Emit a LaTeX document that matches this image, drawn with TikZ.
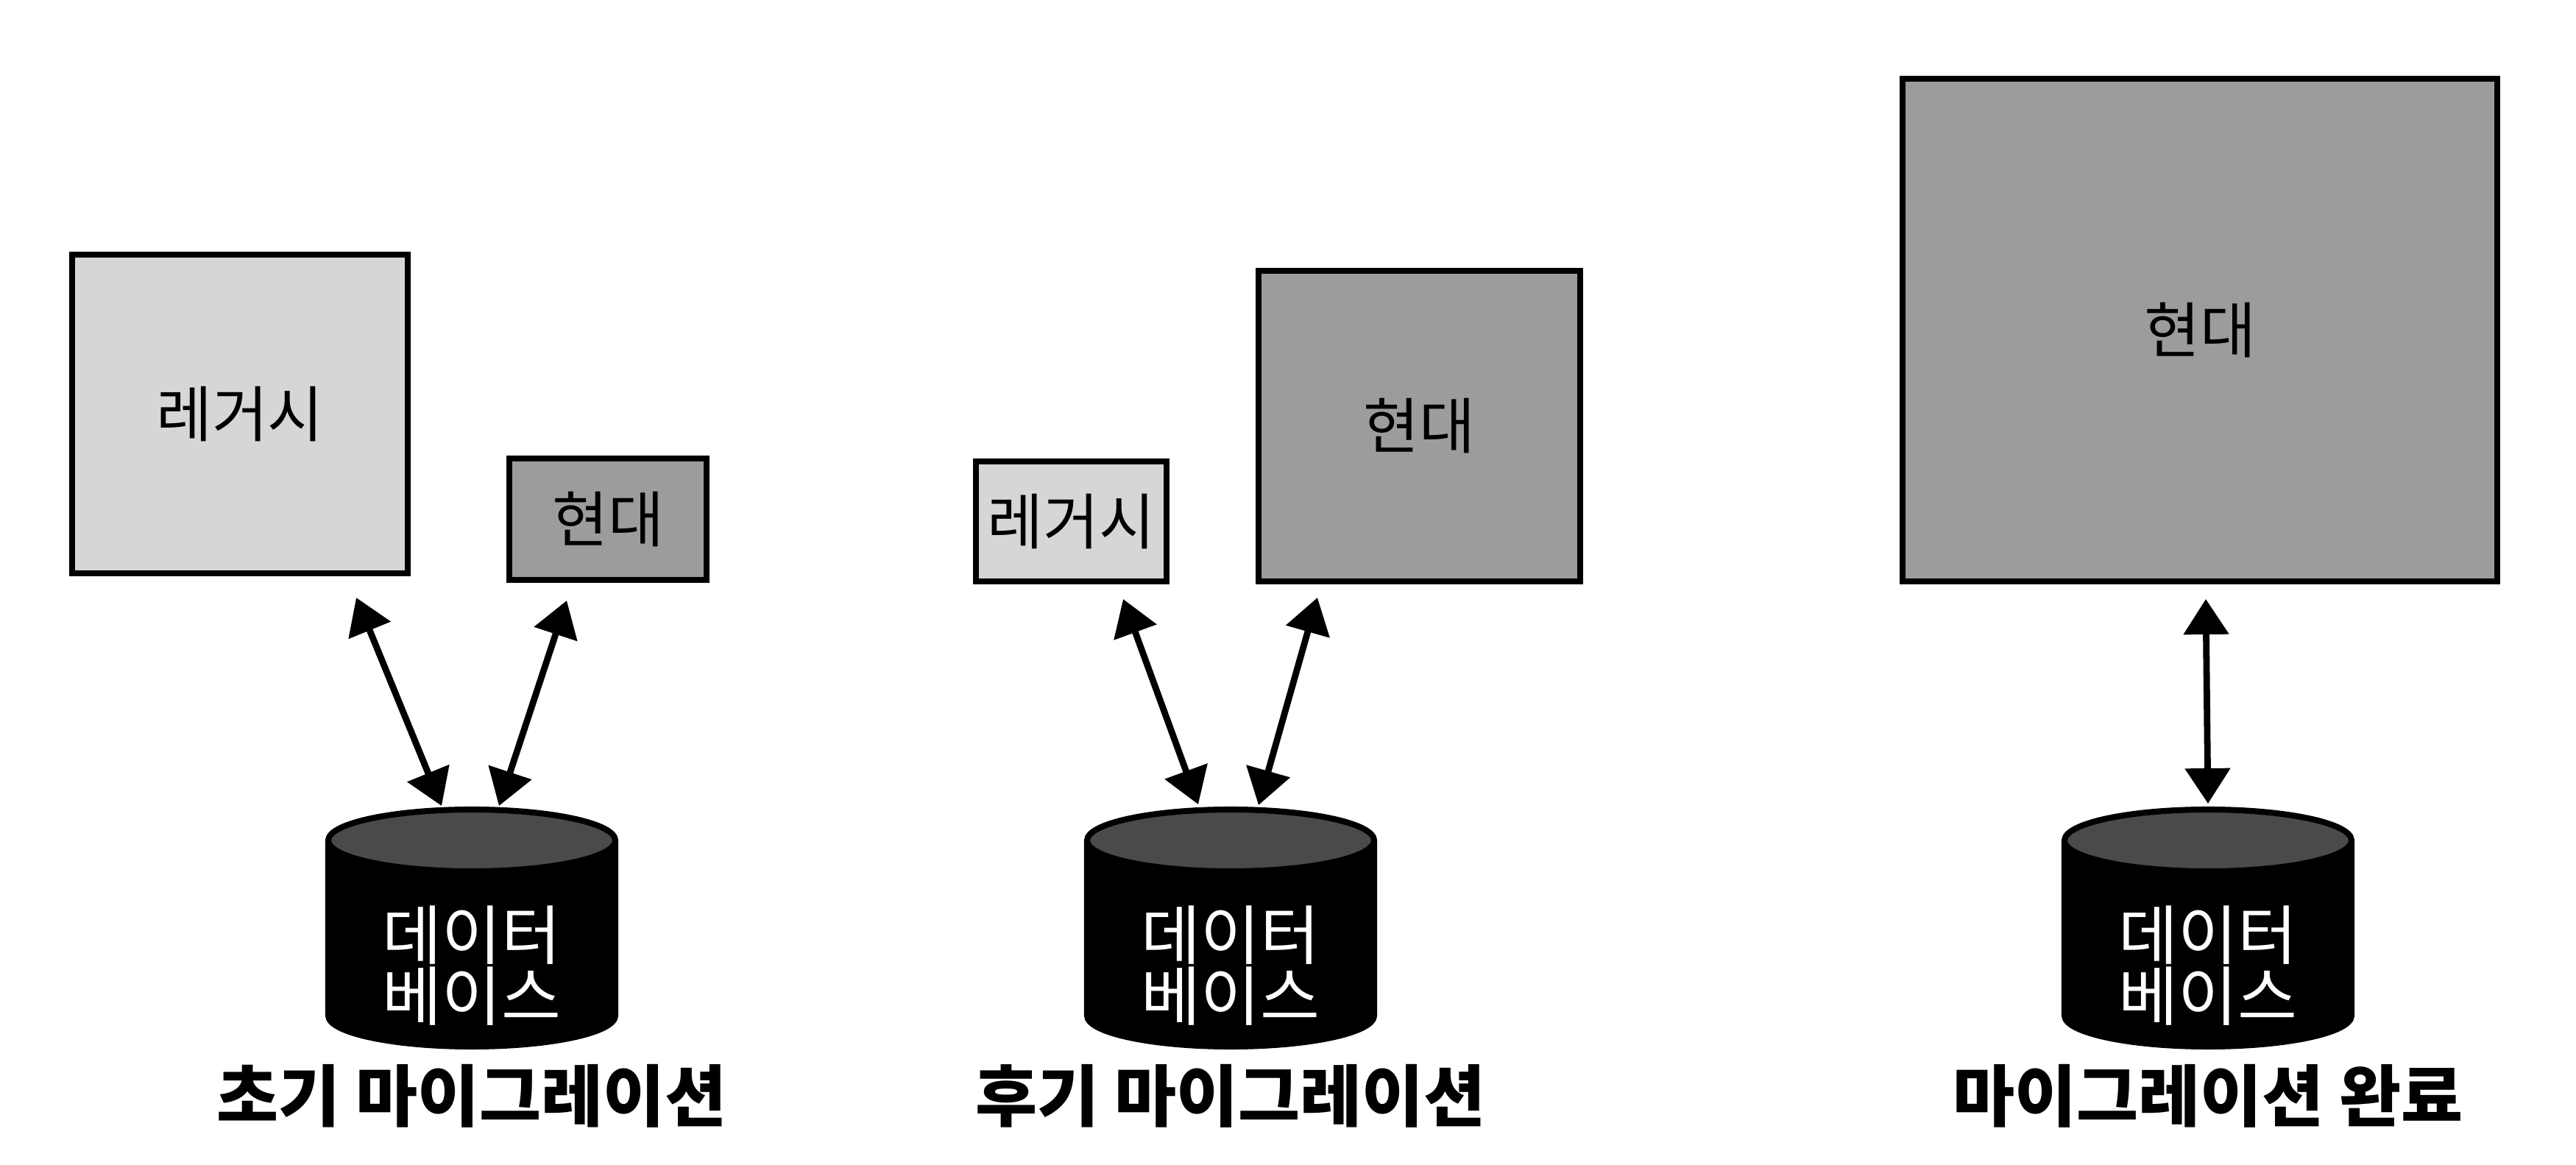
\documentclass[tikz,border=0pt]{standalone}
\usepackage{fontspec}
\setmainfont{Noto Sans CJK KR}
\usetikzlibrary{positioning,arrows.meta}
\definecolor{legacygray}{HTML}{D6D6D6}
\definecolor{moderngray}{HTML}{9C9C9C}
\definecolor{dbtopgray}{HTML}{4A4A4A}

\begin{document}
\begin{tikzpicture}[
  appbox/.style={shape=rectangle,draw,line width=2.3pt,inner sep=0pt,font=\fontsize{23.5}{23.5}\selectfont},
  legacy/.style={appbox,fill=legacygray},
  modern/.style={appbox,fill=moderngray},
  dbcan/.style={shape=rectangle,minimum width=3.9cm,minimum height=3.22cm,inner sep=0pt,outer sep=0pt,anchor=north},
  dbline/.style={line width=2.3pt,line join=round},
  dbname/.style={inner sep=0pt,align=center,text=white,font=\fontsize{25}{22.5}\selectfont},
  link/.style={{Triangle[length=0.48cm,width=0.6cm]}-{Triangle[length=0.48cm,width=0.6cm]},line width=2.5pt},
  phase/.style={inner sep=0pt,font=\fontsize{26}{26}\selectfont\bfseries}
]
\useasboundingbox (0,0) rectangle (35,-15.83);
\node[legacy,minimum width=4.56cm,minimum height=4.33cm] (legacy1) at (3.26,-5.625) {레거시};
\node[modern,minimum width=2.68cm,minimum height=1.65cm] (modern1) at (8.26,-7.055) {현대};
\node[dbcan] (db1) at (6.41,-11.00) {};
\draw[dbline,fill=black] ([yshift=-0.42cm]db1.north west) -- ([yshift=0.42cm]db1.south west)
   arc[start angle=180,end angle=360,x radius=1.95cm,y radius=0.42cm] -- ([yshift=-0.42cm]db1.north east) -- cycle;
\draw[dbline,fill=dbtopgray] ([yshift=-0.42cm]db1.north) ellipse[x radius=1.95cm,y radius=0.42cm];
\node[dbname] (dbname1) at ([yshift=-2.12cm]db1.north) {데이터\\베이스};
\node[phase,below=0.24cm of db1] (phase1) {초기 마이그레이션};
\draw[link] ([shift={(-0.74,-0.29)}]legacy1.south east) -- ([shift={(-0.41,0.05)}]db1.north);
\draw[link] ([shift={(-0.56,-0.24)}]modern1.south) -- ([shift={(0.37,0.05)}]db1.north);

\node[legacy,minimum width=2.59cm,minimum height=1.63cm] (legacy2) at (14.555,-7.085) {레거시};
\node[modern,minimum width=4.37cm,minimum height=4.22cm] (modern2) at (19.285,-5.79) {현대};
\node[dbcan] (db2) at (16.72,-11.00) {};
\draw[dbline,fill=black] ([yshift=-0.42cm]db2.north west) -- ([yshift=0.42cm]db2.south west)
   arc[start angle=180,end angle=360,x radius=1.95cm,y radius=0.42cm] -- ([yshift=-0.42cm]db2.north east) -- cycle;
\draw[dbline,fill=dbtopgray] ([yshift=-0.42cm]db2.north) ellipse[x radius=1.95cm,y radius=0.42cm];
\node[dbname] (dbname2) at ([yshift=-2.12cm]db2.north) {데이터\\베이스};
\node[phase,below=0.24cm of db2] (phase2) {후기 마이그레이션};
\draw[link] ([shift={(-0.63,-0.20)}]legacy2.south east) -- ([shift={(-0.44,0.07)}]db2.north);
\draw[link] ([shift={(0.84,-0.18)}]modern2.south west) -- ([shift={(0.38,0.06)}]db2.north);

\node[modern,minimum width=8.08cm,minimum height=6.83cm] (modern3) at (29.89,-4.485) {현대};
\node[dbcan] (db3) at (30.00,-11.00) {};
\draw[dbline,fill=black] ([yshift=-0.42cm]db3.north west) -- ([yshift=0.42cm]db3.south west)
   arc[start angle=180,end angle=360,x radius=1.95cm,y radius=0.42cm] -- ([yshift=-0.42cm]db3.north east) -- cycle;
\draw[dbline,fill=dbtopgray] ([yshift=-0.42cm]db3.north) ellipse[x radius=1.95cm,y radius=0.42cm];
\node[dbname] (dbname3) at ([yshift=-2.12cm]db3.north) {데이터\\베이스};
\node[phase,below=0.24cm of db3] (phase3) {마이그레이션 완료};
\draw[link] ([shift={(0.08,-0.20)}]modern3.south) -- ([shift={(0,0.08)}]db3.north);
\end{tikzpicture}
\end{document}
